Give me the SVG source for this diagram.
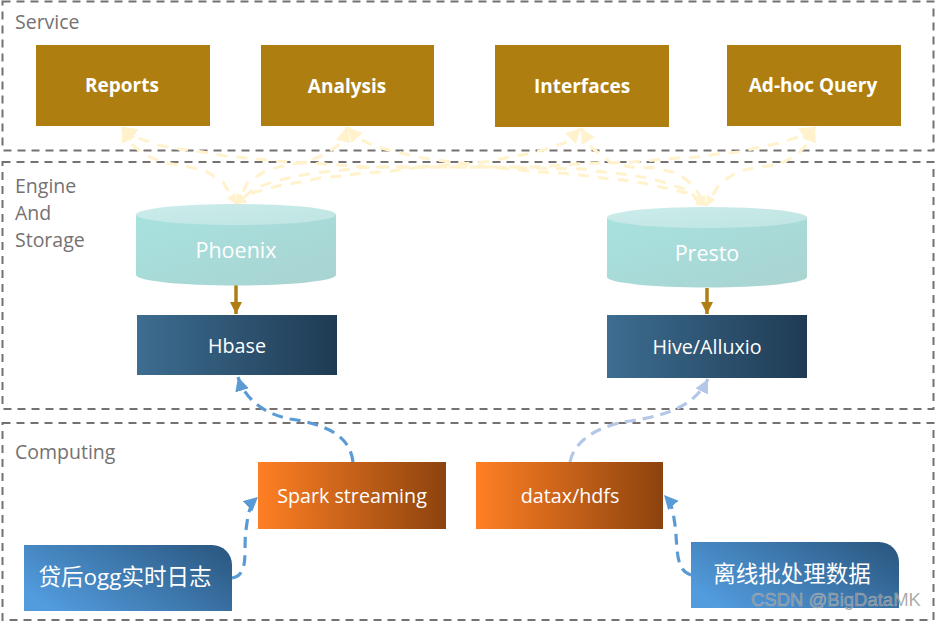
<svg xmlns="http://www.w3.org/2000/svg" width="936" height="621" viewBox="0 0 936 621">
<style>
.zone{fill:none;stroke:#767171;stroke-width:2;stroke-dasharray:8 6}
.zl{font:19.500px "Open Sans","Liberation Sans",sans-serif;fill:#767171}
.gold{fill:#AE7F10}
.gt{font:bold 19px "Open Sans","Liberation Sans",sans-serif;fill:#fff;text-anchor:middle}
.wt{font:19.700px "Open Sans","Liberation Sans",sans-serif;fill:#fff;text-anchor:middle}
.big{font:21.500px "Open Sans","Liberation Sans",sans-serif;fill:#fff;text-anchor:middle}
.cjk{font:22.500px "Open Sans","Noto Sans CJK SC",sans-serif;fill:#fff;text-anchor:middle}
.y{fill:none;stroke:#FFF2CC;stroke-width:3;stroke-linejoin:round;stroke-dasharray:11 9;marker-start:url(#ya);marker-end:url(#yb)}
.b{fill:none;stroke:#5B9BD5;stroke-width:3.200;stroke-dasharray:11 7;marker-end:url(#ba)}
.lb{fill:none;stroke:#B4C7E7;stroke-width:3.200;stroke-dasharray:11 7;marker-end:url(#la)}
.g{fill:none;stroke:#AE7F10;stroke-width:3.500;marker-end:url(#ga)}
</style>
<defs>
<marker id="ya" markerUnits="userSpaceOnUse" markerWidth="17" markerHeight="17" refX="15" refY="7.500" orient="auto-start-reverse"><path d="M0,0L15,7.500L0,15z" fill="#FFF2CC"/></marker>
<marker id="yb" markerUnits="userSpaceOnUse" markerWidth="12" markerHeight="12" refX="10" refY="5" orient="auto"><path d="M0,0L10,5L0,10z" fill="#FFF2CC"/></marker>
<marker id="ba" markerUnits="userSpaceOnUse" markerWidth="17" markerHeight="17" refX="14" refY="7" orient="auto"><path d="M0,0L14,7L0,14z" fill="#5B9BD5"/></marker>
<marker id="la" markerUnits="userSpaceOnUse" markerWidth="17" markerHeight="17" refX="14" refY="7" orient="auto"><path d="M0,0L14,7L0,14z" fill="#B4C7E7"/></marker>
<marker id="ga" markerUnits="userSpaceOnUse" markerWidth="14" markerHeight="14" refX="12" refY="6" orient="auto"><path d="M0,0L12,6L0,12z" fill="#AE7F10"/></marker>
<linearGradient id="navy"><stop offset="0" stop-color="#3D6D91"/><stop offset="1" stop-color="#1F3B53"/></linearGradient>
<linearGradient id="orange"><stop offset="0" stop-color="#FF7F24"/><stop offset="1" stop-color="#8C430E"/></linearGradient>
<linearGradient id="blue" x1="0" y1="0.700" x2="1" y2="0.200"><stop offset="0" stop-color="#529BDD"/><stop offset="1" stop-color="#2C5A84"/></linearGradient>
<linearGradient id="teal" x1="0" y1="0" x2="1" y2="1"><stop offset="0" stop-color="#A7E2DF"/><stop offset="1" stop-color="#A9D3D1"/></linearGradient>
<linearGradient id="tealtop" x1="0" y1="0" x2="1" y2="1"><stop offset="0" stop-color="#CBEDEB"/><stop offset="1" stop-color="#BFE4E2"/></linearGradient>
</defs>
<g id="zone-service"><rect class="zone" x="2.500" y="1.500" width="931" height="149"/><text class="zl" x="15" y="29">Service</text></g>
<g id="zone-engine"><rect class="zone" x="2.500" y="162" width="931" height="247"/><text class="zl" x="15" y="193">Engine</text><text class="zl" x="15" y="220">And</text><text class="zl" x="15" y="247">Storage</text></g>
<g id="zone-computing"><rect class="zone" x="2.500" y="423" width="931" height="197"/><text class="zl" x="15" y="459">Computing</text></g>
<g id="connectors">
<path class="y" d="M122,127L130,143L145,155L165,163L185,166L206,171L223,182L236,204"/>
<path class="y" d="M122,127L138,138L158,145L180,149L203,152L225,156L247,158L267,160L288,162L313,163L350,166L377,167L480,167L583,169L603,172L623,174L647,178L667,183L687,190L706,206"/>
<path class="y" d="M347,127L343,142L327,153L307,162L287,165L267,170L248,182L236,204"/>
<path class="y" d="M347,127L357,138L377,147L397,152L417,157L437,160L460,163L497,168L520,170L540,172L560,173L580,175L602,178L623,180L643,183L665,188L687,193L706,206"/>
<path class="y" d="M581,128L567,142L547,149L527,154L505,158L485,162L420,167L377,167L357,168L337,171L313,173L293,177L273,182L255,188L236,204"/>
<path class="y" d="M581,128L592,148L610,162L630,167L655,168L677,173L693,185L706,206"/>
<path class="y" d="M815,127L798,137L780,143L760,147L740,152L717,154L697,157L677,158L655,160L633,162L610,163L590,163L538,167L420,167L400,170L383,172L363,173L342,176L320,178L300,182L278,186L255,192L236,204"/>
<path class="y" d="M815,127L808,143L797,155L778,165L757,167L737,172L720,183L706,206"/>
<path class="g" d="M236,285V314"/>
<path class="g" d="M707,288V314"/>
<path class="b" d="M353,462C350,435 325,424 290,419C265,414 245,400 238,377"/>
<path class="lb" d="M570,462C574,440 600,425 630,421C670,415 695,405 708,379"/>
<path class="b" d="M232,578C250,575 243,550 246,530C248,515 249,505 258,497"/>
<path class="b" d="M691,575C675,570 678,550 675,525C673,512 673,505 664,495"/>
</g>
<g id="reports"><rect class="gold" x="36" y="45" width="174" height="81"/><text class="gt" x="122" y="92">Reports</text></g>
<g id="analysis"><rect class="gold" x="261" y="45" width="173" height="81"/><text class="gt" x="347" y="93">Analysis</text></g>
<g id="interfaces"><rect class="gold" x="495" y="45" width="174" height="82"/><text class="gt" x="582" y="93">Interfaces</text></g>
<g id="adhoc"><rect class="gold" x="727" y="45" width="174" height="81"/><text class="gt" x="813" y="92">Ad-hoc Query</text></g>
<g id="phoenix"><path d="M136,214.500V275A100,10.500 0 0 0 336,275V214.500z" fill="url(#teal)"/><ellipse cx="236" cy="214.500" rx="100" ry="10.500" fill="url(#tealtop)"/><text class="big" x="236" y="258">Phoenix</text></g>
<g id="presto"><path d="M607,217.500V277A100,10.500 0 0 0 807,277V217.500z" fill="url(#teal)"/><ellipse cx="707" cy="217.500" rx="100" ry="10.500" fill="url(#tealtop)"/><text class="big" x="707" y="261">Presto</text></g>
<g id="hbase"><rect x="137" y="315" width="200" height="60" fill="url(#navy)"/><text class="wt" x="237" y="353">Hbase</text></g>
<g id="hive"><rect x="607" y="315" width="200" height="63" fill="url(#navy)"/><text class="wt" x="707" y="354">Hive/Alluxio</text></g>
<g id="spark"><rect x="258" y="462" width="188" height="67" fill="url(#orange)"/><text class="wt" x="352" y="503">Spark streaming</text></g>
<g id="datax"><rect x="476" y="462" width="187" height="67" fill="url(#orange)"/><text class="wt" x="570" y="503">datax/hdfs</text></g>
<g id="ogg"><path d="M24,545H212A20,20 0 0 1 232,565V611H24z" fill="url(#blue)"/><text class="cjk" x="125" y="585">贷后ogg实时日志</text></g>
<g id="offline"><path d="M691,542H879A20,20 0 0 1 899,562V608H691z" fill="url(#blue)"/><text class="cjk" x="792" y="582">离线批处理数据</text></g>
<text x="751" y="606" font-family="Liberation Sans,sans-serif" font-size="18.500" fill="#8c8c8c" fill-opacity="0.85" stroke="#fff" stroke-opacity="0.35" stroke-width="0.6">CSDN @BigDataMK</text>
</svg>
